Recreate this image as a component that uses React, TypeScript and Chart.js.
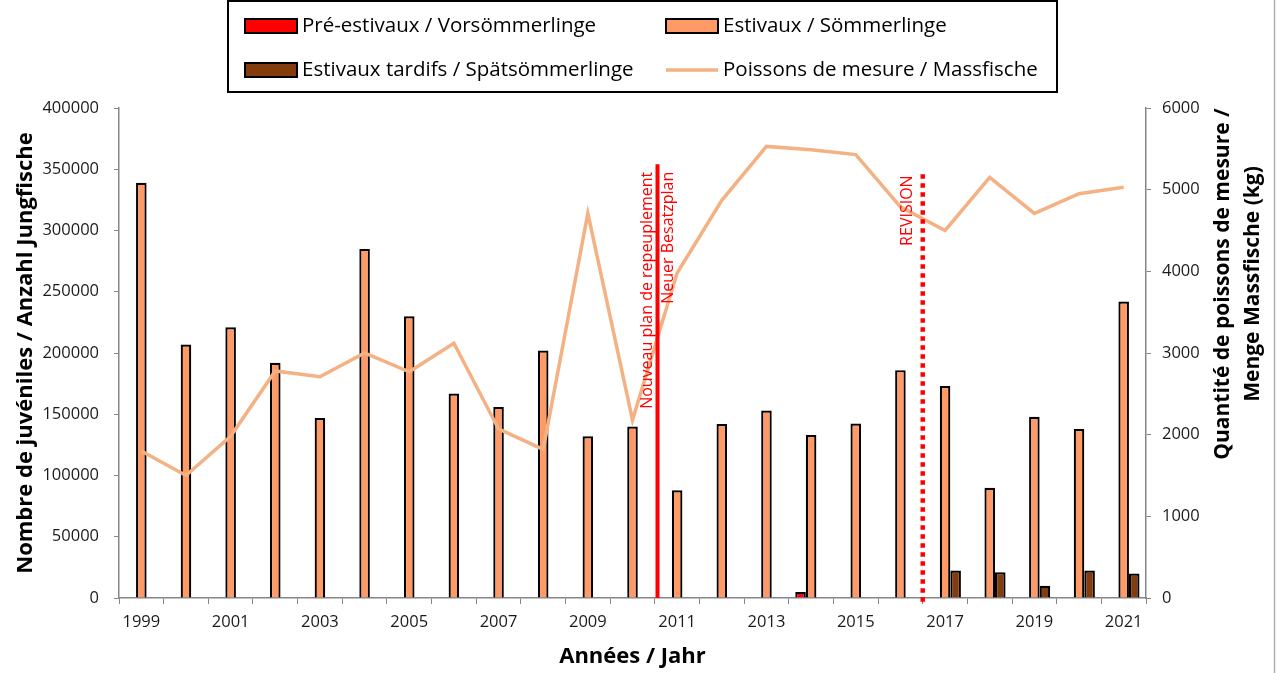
import React, { useEffect, useRef } from 'react';
import { Chart, registerables } from 'chart.js';

Chart.register(...registerables);

const FONT = '"Open Sans", "Noto Sans", sans-serif';

const years = [
  '1999', '2000', '2001', '2002', '2003', '2004', '2005', '2006', '2007', '2008', '2009', '2010',
  '2011', '2012', '2013', '2014', '2015', '2016', '2017', '2018', '2019', '2020', '2021',
];

const preSummerlings = [
  null, null, null, null, null, null, null, null, null, null, null, null,
  null, null, null, 5000, null, null, null, null, null, null, null,
];

const summerlings = [
  339000, 207000, 221000, 192000, 147000, 285000, 230000, 167000, 156000, 202000, 132000, 140000,
  88000, 142000, 153000, 133000, 142500, 186000, 173000, 90000, 148000, 138000, 242000,
];

const lateSummerlings = [
  null, null, null, null, null, null, null, null, null, null, null, null,
  null, null, null, null, null, null, 22500, 21000, 10000, 22400, 20000,
];

const massFishKg = [
  1800, 1500, 1980, 2780, 2710, 3000, 2770, 3120, 2070, 1820, 4710, 2180,
  3980, 4870, 5530, 5490, 5430, 4790, 4500, 5150, 4710, 4950, 5030,
];

const seriesNames = [
  'Pré-estivaux / Vorsömmerlinge',
  'Estivaux / Sömmerlinge',
  'Estivaux tardifs / Spätsömmerlinge',
  'Poissons de mesure / Massfische',
];

const leftAxisTitle = 'Nombre de juvéniles / Anzahl Jungfische';
const rightAxisTitle = ['Quantité de poissons de mesure /', 'Menge Massfische (kg)'];
const xAxisTitle = 'Années / Jahr';

// event markers: position in category units, top value (left axis)
const markerPositions = [11.56, 17.5];
const markerTops = [354000, 346000];
const markerTextTops = [348000, 345000];
const markerTexts = [
  ['Nouveau plan de repeuplement', 'Neuer Besatzplan'],
  ['REVISION'],
];

const COLORS = {
  pre: '#FF0000',
  summer: '#FF9966',
  late: '#843C0C',
  line: '#F4B183',
  axis: '#868686',
  text: '#1a1a1a',
};

function drawRotated(ctx: CanvasRenderingContext2D, text: string, cx: number, cy: number, align: CanvasTextAlign) {
  ctx.save();
  ctx.translate(cx, cy);
  ctx.rotate(-Math.PI / 2);
  ctx.textAlign = align;
  ctx.textBaseline = 'middle';
  ctx.fillText(text, 0, 0);
  ctx.restore();
}

const overlayPlugin = {
  id: 'overlay',
  afterDatasetsDraw(chart: any) {
    const { ctx } = chart;
    const x = chart.scales.x;
    const y = chart.scales.y;
    const base = y.getPixelForValue(0);
    ctx.save();
    // solid marker
    const x0 = x.getPixelForValue(markerPositions[0]);
    ctx.strokeStyle = '#FF0000';
    ctx.lineWidth = 4;
    ctx.beginPath();
    ctx.moveTo(x0, y.getPixelForValue(markerTops[0]));
    ctx.lineTo(x0, base);
    ctx.stroke();
    // dotted marker
    const x1 = x.getPixelForValue(markerPositions[1]);
    ctx.setLineDash([4.5, 4.5]);
    ctx.lineWidth = 4.5;
    ctx.beginPath();
    ctx.moveTo(x1, y.getPixelForValue(markerTops[1]));
    ctx.lineTo(x1, base + 6);
    ctx.stroke();
    ctx.setLineDash([]);
    // texts
    ctx.fillStyle = '#FF0000';
    ctx.font = `16px ${FONT}`;
    const t0 = y.getPixelForValue(markerTextTops[0]);
    drawRotated(ctx, markerTexts[0][0], x0 - 10.5, t0, 'right');
    drawRotated(ctx, markerTexts[0][1], x0 + 10.5, t0, 'right');
    const t1 = y.getPixelForValue(markerTextTops[1]);
    drawRotated(ctx, markerTexts[1][0], x1 - 15, t1, 'right');
    ctx.restore();
  },
  afterDraw(chart: any) {
    const { ctx } = chart;
    ctx.save();
    // right axis title
    ctx.fillStyle = '#000';
    ctx.font = `bold 21px ${FONT}`;
    drawRotated(ctx, rightAxisTitle[0], 1223, 284, 'center');
    drawRotated(ctx, rightAxisTitle[1], 1253, 284, 'center');

    // legend box
    ctx.strokeStyle = '#000';
    ctx.lineWidth = 2;
    ctx.strokeRect(228, 1, 829, 91);
    const rows = [26, 70];
    const cols = [245, 666];
    const items = [
      { name: seriesNames[0], color: COLORS.pre, kind: 'bar', r: 0, c: 0 },
      { name: seriesNames[1], color: COLORS.summer, kind: 'bar', r: 0, c: 1 },
      { name: seriesNames[2], color: COLORS.late, kind: 'bar', r: 1, c: 0 },
      { name: seriesNames[3], color: COLORS.line, kind: 'line', r: 1, c: 1 },
    ];
    ctx.font = `20.5px ${FONT}`;
    ctx.textBaseline = 'middle';
    ctx.textAlign = 'left';
    for (const it of items) {
      const sx = cols[it.c];
      const sy = rows[it.r];
      if (it.kind === 'bar') {
        ctx.fillStyle = it.color;
        ctx.fillRect(sx, sy - 7, 52, 14);
        ctx.strokeStyle = '#000';
        ctx.lineWidth = 2;
        ctx.strokeRect(sx, sy - 7, 52, 14);
      } else {
        ctx.strokeStyle = it.color;
        ctx.lineWidth = 3.5;
        ctx.beginPath();
        ctx.moveTo(sx, sy);
        ctx.lineTo(sx + 52, sy);
        ctx.stroke();
      }
      ctx.fillStyle = '#000';
      ctx.fillText(it.name, sx + 57, sy);
    }
    // outer frame right edge
    ctx.strokeStyle = '#b0b0b0';
    ctx.lineWidth = 1.5;
    ctx.beginPath();
    ctx.moveTo(1274.5, 0);
    ctx.lineTo(1274.5, 673);
    ctx.stroke();
    ctx.restore();
  },
};

export default function App() {
  const canvasRef = useRef<HTMLCanvasElement | null>(null);

  useEffect(() => {
    const canvas = canvasRef.current;
    if (!canvas) return;
    const tickFont = { family: FONT, size: 16.5 };
    const titleFont = { family: FONT, size: 22, weight: 'bold' as const };
    const chart = new Chart(canvas, {
      type: 'bar',
      data: {
        labels: years,
        datasets: [
          {
            type: 'line',
            label: seriesNames[3],
            data: massFishKg,
            yAxisID: 'y1',
            borderColor: COLORS.line,
            backgroundColor: COLORS.line,
            borderWidth: 3.5,
            pointRadius: 0,
            tension: 0,
            order: 0,
          } as any,
          {
            label: seriesNames[0],
            data: preSummerlings,
            yAxisID: 'y',
            backgroundColor: COLORS.pre,
            borderColor: '#000',
            borderWidth: 2.2,
            order: 1,
          },
          {
            label: seriesNames[1],
            data: summerlings,
            yAxisID: 'y',
            backgroundColor: COLORS.summer,
            borderColor: '#000',
            borderWidth: 2.2,
            order: 1,
          },
          {
            label: seriesNames[2],
            data: lateSummerlings,
            yAxisID: 'y',
            backgroundColor: COLORS.late,
            borderColor: '#000',
            borderWidth: 2.2,
            order: 1,
          },
        ],
      },
      options: {
        responsive: false,
        devicePixelRatio: 1,
        animation: false,
        layout: { padding: { top: 108, left: 0, right: 0, bottom: 0 } },
        datasets: {
          bar: { categoryPercentage: 0.71, barPercentage: 1 },
        },
        plugins: {
          legend: { display: false },
          tooltip: { enabled: false },
        },
        scales: {
          x: {
            offset: true,
            grid: {
              display: true,
              drawOnChartArea: false,
              drawTicks: true,
              tickLength: 6,
              color: COLORS.axis,
              offset: true,
            },
            border: { color: COLORS.axis, width: 1.5 },
            ticks: {
              autoSkip: false,
              maxRotation: 0,
              minRotation: 0,
              padding: 8,
              color: COLORS.text,
              font: tickFont,
              callback: (_v: any, i: number) => (i % 2 === 0 ? years[i] : ''),
            },
            title: {
              display: true,
              text: xAxisTitle,
              color: '#000',
              font: titleFont,
              padding: { top: 4, bottom: 3 },
            },
            afterFit: (s: any) => {
              s.height = 75;
            },
          },
          y: {
            position: 'left',
            min: 0,
            max: 400000,
            grid: {
              display: true,
              drawOnChartArea: false,
              drawTicks: true,
              tickLength: 5,
              color: COLORS.axis,
            },
            border: { color: COLORS.axis, width: 1.5 },
            ticks: {
              stepSize: 50000,
              padding: 15,
              color: COLORS.text,
              font: tickFont,
              callback: (v: any) => String(v),
            },
            title: {
              display: true,
              text: leftAxisTitle,
              color: '#000',
              font: titleFont,
              padding: { top: 13, bottom: 0 },
            },
            afterFit: (s: any) => {
              s.width = 119;
            },
          },
          y1: {
            position: 'right',
            min: 0,
            max: 6000,
            grid: {
              display: true,
              drawOnChartArea: false,
              drawTicks: true,
              tickLength: 5,
              color: COLORS.axis,
            },
            border: { color: COLORS.axis, width: 1.5 },
            ticks: {
              stepSize: 1000,
              padding: 11,
              color: COLORS.text,
              font: tickFont,
              callback: (v: any) => String(v),
            },
            afterFit: (s: any) => {
              s.width = 139;
            },
          },
        },
      },
      plugins: [overlayPlugin],
    });
    return () => chart.destroy();
  }, []);

  return (
    <div style={{ position: 'absolute', left: 0, top: 0, width: 1285, height: 673, background: '#fff' }}>
      <canvas ref={canvasRef} width={1285} height={673} style={{ display: 'block', width: 1285, height: 673 }} />
    </div>
  );
}
